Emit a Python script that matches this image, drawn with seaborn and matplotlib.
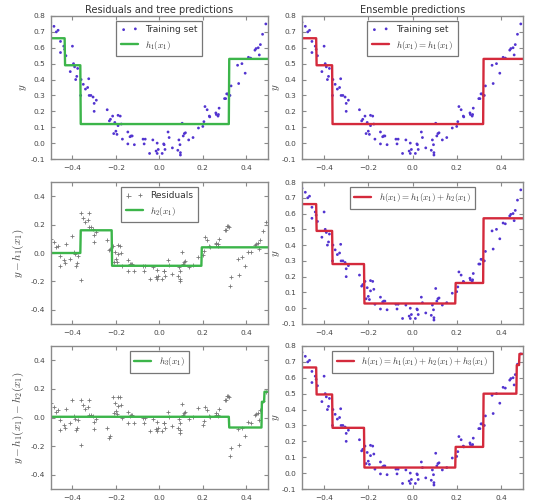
import numpy as np
import pandas as pd
import matplotlib
matplotlib.use("Agg")
import matplotlib.pyplot as plt
import seaborn as sns

# ---- data ----
X = [-0.500, -0.485, -0.474, -0.466, -0.455, -0.455, -0.440, -0.436, -0.430, -0.410,
     -0.400, -0.395, -0.390, -0.385, -0.380, -0.376, -0.362, -0.360, -0.350, -0.340,
     -0.330, -0.325, -0.323, -0.315, -0.305, -0.300, -0.300, -0.290, -0.240, -0.230,
     -0.225, -0.215, -0.210, -0.205, -0.200, -0.195, -0.190, -0.190, -0.180, -0.175,
     -0.170, -0.145, -0.145, -0.135, -0.130, -0.125, -0.115, -0.075, -0.070, -0.065,
     -0.045, -0.030, -0.015, -0.010, -0.010, -0.005, 0.013, 0.020, 0.022, 0.026,
     0.040, 0.045, 0.060, 0.085, 0.090, 0.095, 0.097, 0.097, 0.105, 0.110,
     0.115, 0.120, 0.135, 0.155, 0.180, 0.200, 0.205, 0.210, 0.220, 0.230,
     0.232, 0.260, 0.262, 0.270, 0.272, 0.275, 0.300, 0.305, 0.310, 0.315,
     0.320, 0.325, 0.330, 0.360, 0.365, 0.380, 0.395, 0.410, 0.420, 0.440,
     0.445, 0.455, 0.460, 0.465, 0.475, 0.490]
Y = [0.76, 0.735, 0.70, 0.71, 0.64, 0.57, 0.61, 0.59, 0.55, 0.45,
     0.61, 0.50, 0.48, 0.40, 0.42, 0.47, 0.30, 0.40, 0.37, 0.34,
     0.35, 0.405, 0.30, 0.30, 0.29, 0.25, 0.20, 0.27, 0.21, 0.14,
     0.15, 0.17, 0.06, 0.13, 0.075, 0.055, 0.11, 0.175, 0.17, 0.12,
     0.025, -0.005, 0.07, 0.04, 0.045, 0.045, -0.01, 0.025, -0.005, 0.025,
     -0.065, 0.02, -0.05, 0.0, -0.065, -0.04, -0.065, -0.005, -0.01, -0.04,
     0.07, 0.035, -0.03, -0.045, 0.02, -0.01, -0.06, -0.075, 0.125, 0.045,
     0.06, 0.065, 0.02, 0.035, 0.095, 0.105, 0.135, 0.23, 0.21, 0.17,
     0.165, 0.19, 0.18, 0.17, 0.18, 0.22, 0.28, 0.28, 0.31, 0.31,
     0.30, 0.30, 0.36, 0.49, 0.375, 0.50, 0.44, 0.54, 0.535, 0.585,
     0.595, 0.60, 0.555, 0.62, 0.685, 0.75]

# depth-2 regression trees: split thresholds and leaf values
h1_splits = [-0.434, -0.362, 0.321]
h1_values = [0.66, 0.49, 0.12, 0.53]
h2_splits = [-0.362, -0.218, 0.195]
h2_values = [0.0, 0.16, -0.09, 0.04]
h3_splits = [0.321, 0.471, 0.482]
h3_values = [0.005, -0.07, 0.11, 0.18]

titles = ["Residuals and tree predictions", "Ensemble predictions"]
left_ylabels = ["$y$", "$y - h_1(x_1)$", "$y - h_1(x_1) - h_2(x_1)$"]
tree_labels = ["$h_1(x_1)$", "$h_2(x_1)$", "$h_3(x_1)$"]
ens_labels = ["$h(x_1) = h_1(x_1)$", "$h(x_1) = h_1(x_1) + h_2(x_1)$",
              "$h(x_1) = h_1(x_1) + h_2(x_1) + h_3(x_1)$"]


def tree(splits, values, x):
    return np.asarray(values)[np.searchsorted(splits, x)]


# ---- style ----
sns.set_style("ticks")
plt.rcParams.update({
    "font.family": ["DejaVu Sans"],
    "mathtext.fontset": "cm",
    "axes.edgecolor": "#8a8a8a",
    "axes.linewidth": 1.0,
    "xtick.direction": "in", "ytick.direction": "in",
    "xtick.top": True, "ytick.right": True,
    "xtick.major.size": 3, "ytick.major.size": 3,
    "xtick.major.pad": 4, "ytick.major.pad": 4,
    "xtick.color": "#8a8a8a", "ytick.color": "#8a8a8a",
    "xtick.labelcolor": "#444444", "ytick.labelcolor": "#444444",
    "xtick.labelsize": 5.3, "ytick.labelsize": 5.3,
})

xa = np.array(X)
ya = np.array(Y)
x1 = np.linspace(-0.5, 0.5, 500)

p1 = tree(h1_splits, h1_values, xa)
p2 = tree(h2_splits, h2_values, xa)
r1 = ya - p1
r2 = ya - p1 - p2

l1 = tree(h1_splits, h1_values, x1)
l2 = tree(h2_splits, h2_values, x1)
l3 = tree(h3_splits, h3_values, x1)

W, H = 533, 500
fig = plt.figure(figsize=(W / 100, H / 100), dpi=100)
col_l = (50.7 / W, 217.3 / W)
col_r = (302 / W, 221 / W)
rows = [(16, 159), (182, 324), (346, 489)]

BLUE = "#5234d0"
GREEN = "#3cb54a"
RED = "#d42a3c"
GREY = "#777777"

left_data = [ya, r1, r2]
left_lines = [l1, l2, l3]
ens_lines = [l1, l1 + l2, l1 + l2 + l3]

for i, (top, bot) in enumerate(rows):
    b = (H - bot) / H
    h = (bot - top) / H
    axL = fig.add_axes([col_l[0], b, col_l[1], h])
    axR = fig.add_axes([col_r[0], b, col_r[1], h])

    # left column
    if i == 0:
        sns.scatterplot(x=xa, y=left_data[i], ax=axL, marker="o", s=4,
                        color=BLUE, edgecolor="none", label="Training set")
    else:
        sns.scatterplot(x=xa, y=left_data[i], ax=axL, marker="+", s=10,
                        color=GREY, linewidth=0.6,
                        label="Residuals" if i == 1 else None)
    sns.lineplot(x=x1, y=left_lines[i], ax=axL, color=GREEN, lw=1.7,
                 sort=False, estimator=None, label=tree_labels[i])
    axL.set_xlim(-0.5, 0.5)
    axL.set_ylim(-0.1, 0.8) if i == 0 else axL.set_ylim(-0.5, 0.5)
    axL.set_yticks(np.arange(-0.1, 0.81, 0.1) if i == 0 else [-0.4, -0.2, 0.0, 0.2, 0.4])
    axL.set_ylabel(left_ylabels[i], fontsize=8, color="#444444",
                   labelpad=1 if i == 0 else 3)

    # right column
    if i == 0:
        sns.scatterplot(x=xa, y=ya, ax=axR, marker="o", s=4,
                        color=BLUE, edgecolor="none", label="Training set")
    else:
        sns.scatterplot(x=xa, y=ya, ax=axR, marker="o", s=4,
                        color=BLUE, edgecolor="none")
    sns.lineplot(x=x1, y=ens_lines[i], ax=axR, color=RED, lw=1.7,
                 sort=False, estimator=None, label=ens_labels[i])
    axR.set_xlim(-0.5, 0.5)
    axR.set_ylim(-0.1, 0.8)
    axR.set_yticks(np.arange(-0.1, 0.81, 0.1))
    axR.set_ylabel("$y$", fontsize=8, color="#444444", labelpad=0)

    for ax in (axL, axR):
        ax.set_xticks([-0.4, -0.2, 0.0, 0.2, 0.4])
        ax.yaxis.set_major_formatter(matplotlib.ticker.FormatStrFormatter("%.1f"))
        ax.set_xlabel("")
        leg = ax.legend(loc="upper center", fontsize=6.5, scatterpoints=2,
                        handlelength=1.9, fancybox=False, framealpha=1,
                        edgecolor="#777777", borderpad=0.5)
        leg.get_frame().set_linewidth(0.9)
        for t in leg.get_texts():
            t.set_color("#333333")

    if i == 0:
        axL.set_title(titles[0], fontsize=7, color="#333333", pad=2)
        axR.set_title(titles[1], fontsize=7, color="#333333", pad=2)

fig.savefig("out.png", dpi=100)
